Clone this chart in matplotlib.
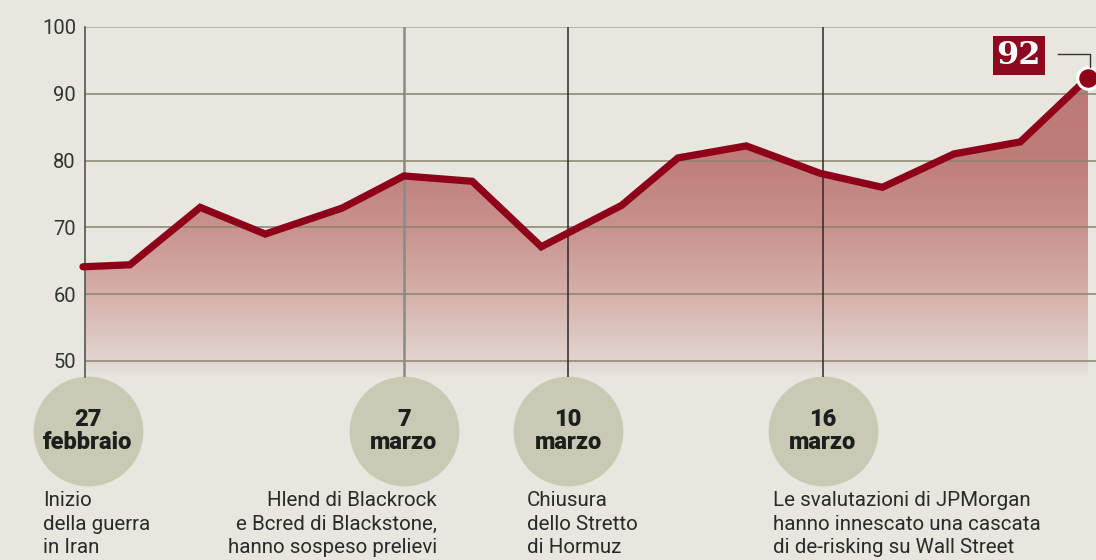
import numpy as np
import matplotlib.pyplot as plt
import matplotlib.transforms as mtransforms
from matplotlib.colors import LinearSegmentedColormap

plt.rcParams['font.family'] = ['Roboto', 'DejaVu Sans']

# sessions (irregular spacing) and index values
x_pos = [0.0, 0.70, 1.75, 2.72, 3.87, 4.79, 5.81, 6.84, 8.04, 8.88,
         9.90, 11.0, 11.93, 13.0, 13.99, 15.0]
values = [64.1, 64.4, 73.0, 69.0, 72.9, 77.7, 76.9, 67.1, 73.3, 80.4,
          82.2, 78.1, 76.0, 81.0, 82.8, 92.4]

yticks = [50, 60, 70, 80, 90, 100]

event_x = [0.03, 4.79, 7.24, 11.04]
event_dates = ['27\nfebbraio', '7\nmarzo', '10\nmarzo', '16\nmarzo']
event_texts = ['Inizio\ndella guerra\nin Iran',
               'Hlend di Blackrock\ne Bcred di Blackstone,\nhanno sospeso prelievi',
               'Chiusura\ndello Stretto\ndi Hormuz',
               'Le svalutazioni di JPMorgan\nhanno innescato una cascata\ndi de-risking su Wall Street']
event_align = ['left', 'right', 'left', 'left']
event_offset = [-42, 33, -41, -50]
event_line_col = ['#555555', '#8a8a86', '#2a2a2a', '#2a2a2a']
event_line_w = [1.2, 1.8, 1.1, 1.1]

bg = '#e7e6df'
red = '#8f0019'

fig = plt.figure(figsize=(10.96, 5.6), dpi=100, facecolor=bg)
W, H = 1096, 560
ax = fig.add_axes([85 / W, (H - 377) / H, (W - 85) / W, 350 / H])
ax.set_facecolor(bg)

px = 67.0

# gradient area under the line
cmap = LinearSegmentedColormap.from_list('fill', [
    (0.0, '#e7e4de'), (0.06, '#e2d3ce'), (0.29, '#d5aea8'),
    (0.51, '#c8918c'), (0.74, '#bf7d78'), (1.0, '#bd7a75')])
grad = np.linspace(0, 1, 256).reshape(-1, 1)
img = ax.imshow(grad, cmap=cmap, aspect='auto', origin='lower',
                extent=[x_pos[0] - 0.03, x_pos[-1] + 0.07, 47.6, 92.4], zorder=1)
poly = ax.fill_between(x_pos, values, 47.6, color='none', lw=0)
img.set_clip_path(poly.get_paths()[0], transform=ax.transData)
ax.set_xlim(2 / px, (W - 83) / px)
ax.set_ylim(47.6, 100)

# grid
for t in yticks:
    ax.axhline(t, color='#a9a896' if t == 100 else '#8a8469', lw=1.1, zorder=2)

for x, c, w in zip(event_x[1:], event_line_col[1:], event_line_w[1:]):
    ax.plot([x, x], [47.6, 100], color=c, lw=w, zorder=3)

ax.plot(x_pos, values, color=red, lw=5.2, solid_joinstyle='miter',
        solid_capstyle='round', zorder=4, clip_on=False)
ax.plot(x_pos[-1], values[-1], 'o', ms=15.5, mfc=red, mec='white', mew=2.2,
        zorder=5, clip_on=False)

# value label
ax.annotate('92', xy=(x_pos[-1], values[-1]), xytext=(-69, 22),
            textcoords='offset pixels', ha='center', va='center',
            fontsize=23, fontweight='bold', family='DejaVu Serif', color='white',
            bbox=dict(boxstyle='square,pad=0.12', fc='#8c0a1f', ec='none'),
            zorder=6, annotation_clip=False)
ax.plot([x_pos[-1] - 30 / px, x_pos[-1] + 2 / px, x_pos[-1] + 2 / px],
        [values[-1] + 24 / 6.7, values[-1] + 24 / 6.7, values[-1] + 11 / 6.7],
        color='#333333', lw=1.0, zorder=5, clip_on=False)

ax.set_yticks(yticks)
ax.set_xticks([])
ax.tick_params(axis='y', length=0, pad=6.5, labelsize=14.5, labelcolor='#333333')
for s in ['top', 'right', 'bottom']:
    ax.spines[s].set_visible(False)
ax.spines['left'].set_color('#555555')
ax.spines['left'].set_linewidth(1.2)
ax.spines['left'].set_zorder(3)

# event circles and notes
trans = mtransforms.blended_transform_factory(ax.transData, ax.transAxes)
cy = (377 - 431) / 350
ty = (377 - 491) / 350
for x, d, t, ha, off in zip(event_x, event_dates, event_texts, event_align, event_offset):
    xc = x + 3 / px if x < 1 else x
    ax.plot([xc], [cy], 'o', ms=79, mfc='#c8cab4', mec='none',
            transform=trans, clip_on=False)
    ax.text(xc, cy, d, transform=trans, ha='center', va='center',
            fontsize=17, fontweight='heavy', color='#1e1e1e', linespacing=1.05)
    ax.annotate(t, xy=(x, ty), xycoords=trans, xytext=(off, 0),
                textcoords='offset pixels', ha=ha, va='top', multialignment=ha,
                fontsize=14.8, color='#2a2a2a', linespacing=1.3,
                annotation_clip=False)

fig.savefig('out.png', dpi=100, facecolor=bg)
